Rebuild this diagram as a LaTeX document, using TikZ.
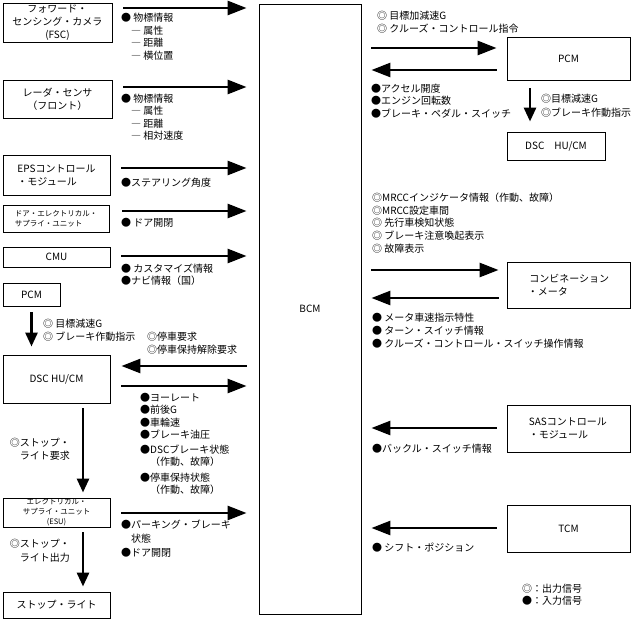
\documentclass[tikz,border=0pt]{standalone}
\usepackage{fontspec}
\setmainfont{Noto Sans CJK JP}
\usetikzlibrary{arrows.meta}
\tikzset{
  box/.style={draw, line width=0.9pt, inner sep=0pt, align=center, font=\fontsize{10}{13}\selectfont},
  lbox/.style={box, align=left},
  smallbox/.style={box, font=\fontsize{7.5}{9.8}\selectfont},
  lbl/.style={anchor=north west, inner sep=0pt, align=left, font=\fontsize{10}{12.5}\selectfont},
  rlbl/.style={anchor=north east, inner sep=0pt, align=right, font=\fontsize{10}{12.5}\selectfont},
  harr/.style={line width=2.8pt, -{Triangle[length=19pt,width=14pt]}},
  varr/.style={line width=2.8pt, -{Triangle[length=14pt,width=12pt]}},
}
\begin{document}
\begin{tikzpicture}[x=1pt,y=-1pt]
\useasboundingbox (0,0) rectangle (634,620);
% central BCM
\node[box, minimum width=102pt, minimum height=610pt] (bcm) at (310,309) {BCM};
% left boxes
\node[box, minimum width=109pt, minimum height=39pt] (fsc) at (57.5,22.5) {フォワード・\\センシング・カメラ\\(FSC)};
\node[box, minimum width=109pt, minimum height=38pt] (radar) at (57.5,99.5) {レーダ・センサ\\（フロント）};
\node[lbox, minimum width=107pt, minimum height=40pt] (eps) at (56.5,175) {EPSコントロール\\・モジュール};
\node[smallbox, align=left, minimum width=106pt, minimum height=27pt] (door) at (56,219) {ドア・エレクトリカル・\\サプライ・ユニット};
\node[box, minimum width=107pt, minimum height=20pt] (cmu) at (56.5,257) {CMU};
\node[box, minimum width=57pt, minimum height=23pt] (pcml) at (31.5,294.5) {PCM};
\node[box, minimum width=107pt, minimum height=48pt] (dscl) at (56.5,379) {DSC HU/CM};
\node[smallbox, minimum width=107pt, minimum height=29pt] (esu) at (56.5,512.5) {エレクトリカル・\\サプライ・ユニット\\(ESU)};
\node[box, minimum width=107pt, minimum height=26pt] (stop) at (56.5,605) {ストップ・ライト};
% right boxes
\node[box, minimum width=123pt, minimum height=43pt] (pcmr) at (568.5,58.5) {PCM};
\node[box, minimum width=98pt, minimum height=28pt] (dscr) at (556,146) {DSC\hspace{1em}HU/CM};
\node[lbox, minimum width=123pt, minimum height=46pt] (comb) at (568.5,285) {\hspace*{1.5pt}コンビネーション\\・メータ\hspace*{3em}};
\node[lbox, minimum width=123pt, minimum height=47pt] (sas) at (568.5,428.5) {SASコントロール\\・モジュール\hspace*{2em}};
\node[box, minimum width=123pt, minimum height=47pt] (tcm) at (568.5,528.5) {TCM};
% left horizontal arrows
\draw[harr, shorten <=11pt, shorten >=12pt] (fsc.east |- 0,8) -- (bcm.west |- 0,8);
\draw[harr, shorten <=11pt, shorten >=12pt] (radar.east |- 0,87) -- (bcm.west |- 0,87);
\draw[harr, shorten <=11pt, shorten >=12pt] (eps.east |- 0,168) -- (bcm.west |- 0,168);
\draw[harr, shorten <=13pt, shorten >=12pt] (door.east |- 0,211) -- (bcm.west |- 0,211);
\draw[harr, shorten <=11pt, shorten >=12pt] (cmu.east |- 0,256) -- (bcm.west |- 0,256);
\draw[harr, shorten <=12pt, shorten >=11pt] (bcm.west |- 0,366) -- (dscl.east |- 0,366);
\draw[harr, shorten <=11pt, shorten >=12pt] (dscl.east |- 0,386) -- (bcm.west |- 0,386);
\draw[harr, shorten <=11pt, shorten >=12pt] (esu.east |- 0,513) -- (bcm.west |- 0,513);
% left vertical arrows
\draw[varr, shorten <=6pt, shorten >=8pt] (pcml.south) -- (pcml.south |- dscl.north);
\draw[varr, shorten <=5pt, shorten >=5pt] (dscl.south -| 83,0) -- (esu.north -| 83,0);
\draw[varr, shorten <=5pt, shorten >=5pt] (esu.south -| 83,0) -- (stop.north -| 83,0);
% right arrows
\draw[harr, shorten <=10pt, shorten >=10pt] (bcm.east |- 0,48) -- (pcmr.west |- 0,48);
\draw[harr, shorten <=10pt, shorten >=10pt] (pcmr.west |- 0,70) -- (bcm.east |- 0,70);
\draw[varr, shorten <=8pt, shorten >=10pt] (pcmr.south -| 530,0) -- (dscr.north -| 530,0);
\draw[harr, shorten <=10pt, shorten >=8pt] (bcm.east |- 0,270) -- (comb.west |- 0,270);
\draw[harr, shorten <=8pt, shorten >=10pt] (comb.west |- 0,298) -- (bcm.east |- 0,298);
\draw[harr, shorten <=10pt, shorten >=10pt] (sas.west |- 0,428) -- (bcm.east |- 0,428);
\draw[harr, shorten <=10pt, shorten >=10pt] (tcm.west |- 0,528) -- (bcm.east |- 0,528);
% left labels
\node[lbl] (t1) at (121,13) {● 物標情報\\\hspace*{1em}― 属性\\\hspace*{1em}― 距離\\\hspace*{1em}― 横位置};
\node[lbl] (t2) at (121,93.5) {● 物標情報\\\hspace*{1em}― 属性\\\hspace*{1em}― 距離\\\hspace*{1em}― 相対速度};
\node[lbl] (t3) at (121,177.5) {●ステアリング角度};
\node[lbl] (t4) at (121,218.5) {● ドア開閉};
\node[lbl] (t5) at (121,263.5) {● カスタマイズ情報\\●ナビ情報（国）};
\node[lbl, font=\fontsize{10}{13.5}\selectfont] (t6) at (43,318.5) {◎ 目標減速G\\◎ ブレーキ作動指示};
\node[lbl, font=\fontsize{10}{13.5}\selectfont] (t7) at (147,331.5) {◎停車要求\\◎停車保持解除要求};
\node[lbl] (t8) at (140,392.5) {●ヨーレート\\●前後G\\●車輪速\\●ブレーキ油圧\\[2pt]●DSCブレーキ状態\\\hspace*{1em}（作動、故障）\\[3pt]●停車保持状態\\\hspace*{1em}（作動、故障）};
\node[rlbl, font=\fontsize{10}{13}\selectfont] (t9) at (70,437.5) {◎ストップ・\\ライト要求};
\node[lbl, font=\fontsize{10}{14}\selectfont] (t10) at (121,519.5) {●パーキング・ブレーキ\\\hspace*{1em}状態\\●ドア開閉};
\node[rlbl, font=\fontsize{10}{14}\selectfont] (t11) at (70,538.5) {◎ストップ・\\ライト出力};
% right labels
\node[lbl, font=\fontsize{10}{13}\selectfont] (t12) at (377,10.5) {◎ 目標加減速G\\◎ クルーズ・コントロール指令};
\node[lbl] (t13) at (371,83.5) {●アクセル開度\\●エンジン回転数\\●ブレーキ・ペダル・スイッチ};
\node[lbl, font=\fontsize{10}{14}\selectfont] (t14) at (541,93.5) {◎目標減速G\\◎ブレーキ作動指示};
\node[lbl, font=\fontsize{10}{12.8}\selectfont] (t15) at (372,192.5) {◎MRCCインジケータ情報（作動、故障）\\◎MRCC設定車間\\◎ 先行車検知状態\\◎ ブレーキ注意喚起表示\\◎ 故障表示};
\node[lbl, font=\fontsize{10}{13}\selectfont] (t16) at (372,312.5) {● メータ車速指示特性\\● ターン・スイッチ情報\\● クルーズ・コントロール・スイッチ操作情報};
\node[lbl] (t17) at (372,443.5) {●バックル・スイッチ情報};
\node[lbl] (t18) at (372,542.5) {● シフト・ポジション};
\node[lbl, font=\fontsize{10}{12}\selectfont] (t19) at (522,583.5) {◎：出力信号\\●：入力信号};
\end{tikzpicture}
\end{document}
